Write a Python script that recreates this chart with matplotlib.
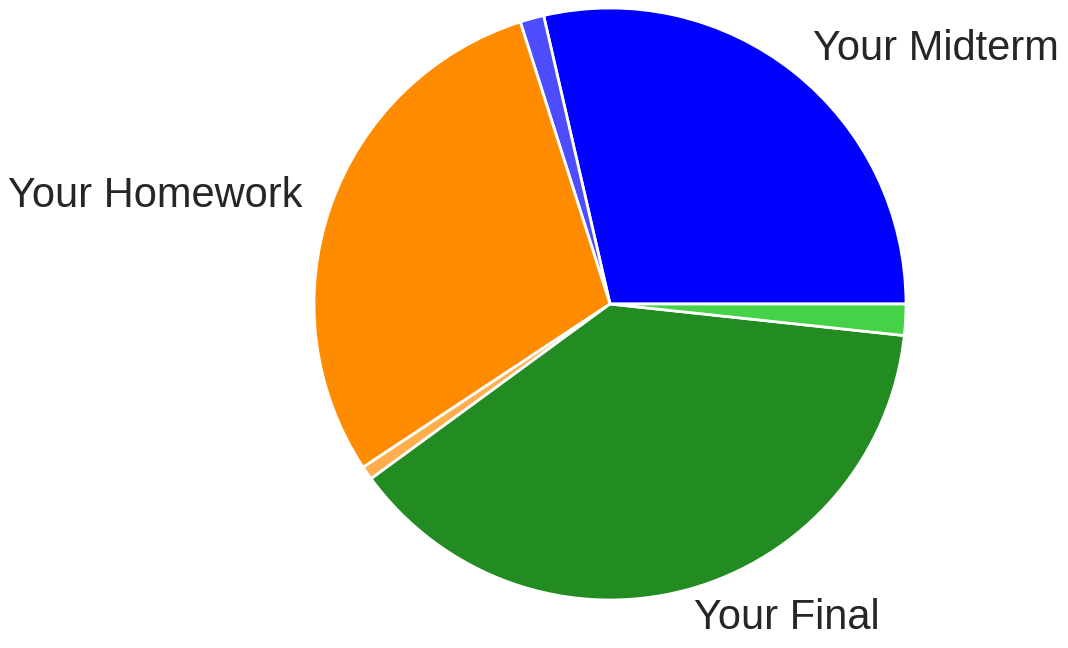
import matplotlib
matplotlib.use("Agg")
import matplotlib.pyplot as plt
import seaborn as sns

sns.set_theme(style="white")
plt.rcParams['font.family'] = ['Liberation Sans', 'DejaVu Sans']

# grade breakdown: earned / lost per component
labels = ["Your Midterm", "", "Your Homework", "", "Your Final", ""]
sizes = [28.6, 1.3, 29.4, 0.75, 38.25, 1.7]
colors = ["#0000ff", "#4d4dff", "#ff8c00", "#ffae4d", "#228b22", "#46d246"]

fig = plt.figure(figsize=(10.68, 6.48), dpi=100)
ax = fig.add_axes([314/1068, 1 - 600/648, 592/1068, 592/648])
ax.pie(sizes, labels=labels, colors=colors, startangle=0, counterclock=True,
       wedgeprops=dict(edgecolor="white", linewidth=2),
       textprops=dict(fontsize=30, color="#262626"))
ax.set_xlim(-1, 1)
ax.set_ylim(-1, 1)
ax.set_aspect("equal")

plt.savefig("out.png", dpi=100)
